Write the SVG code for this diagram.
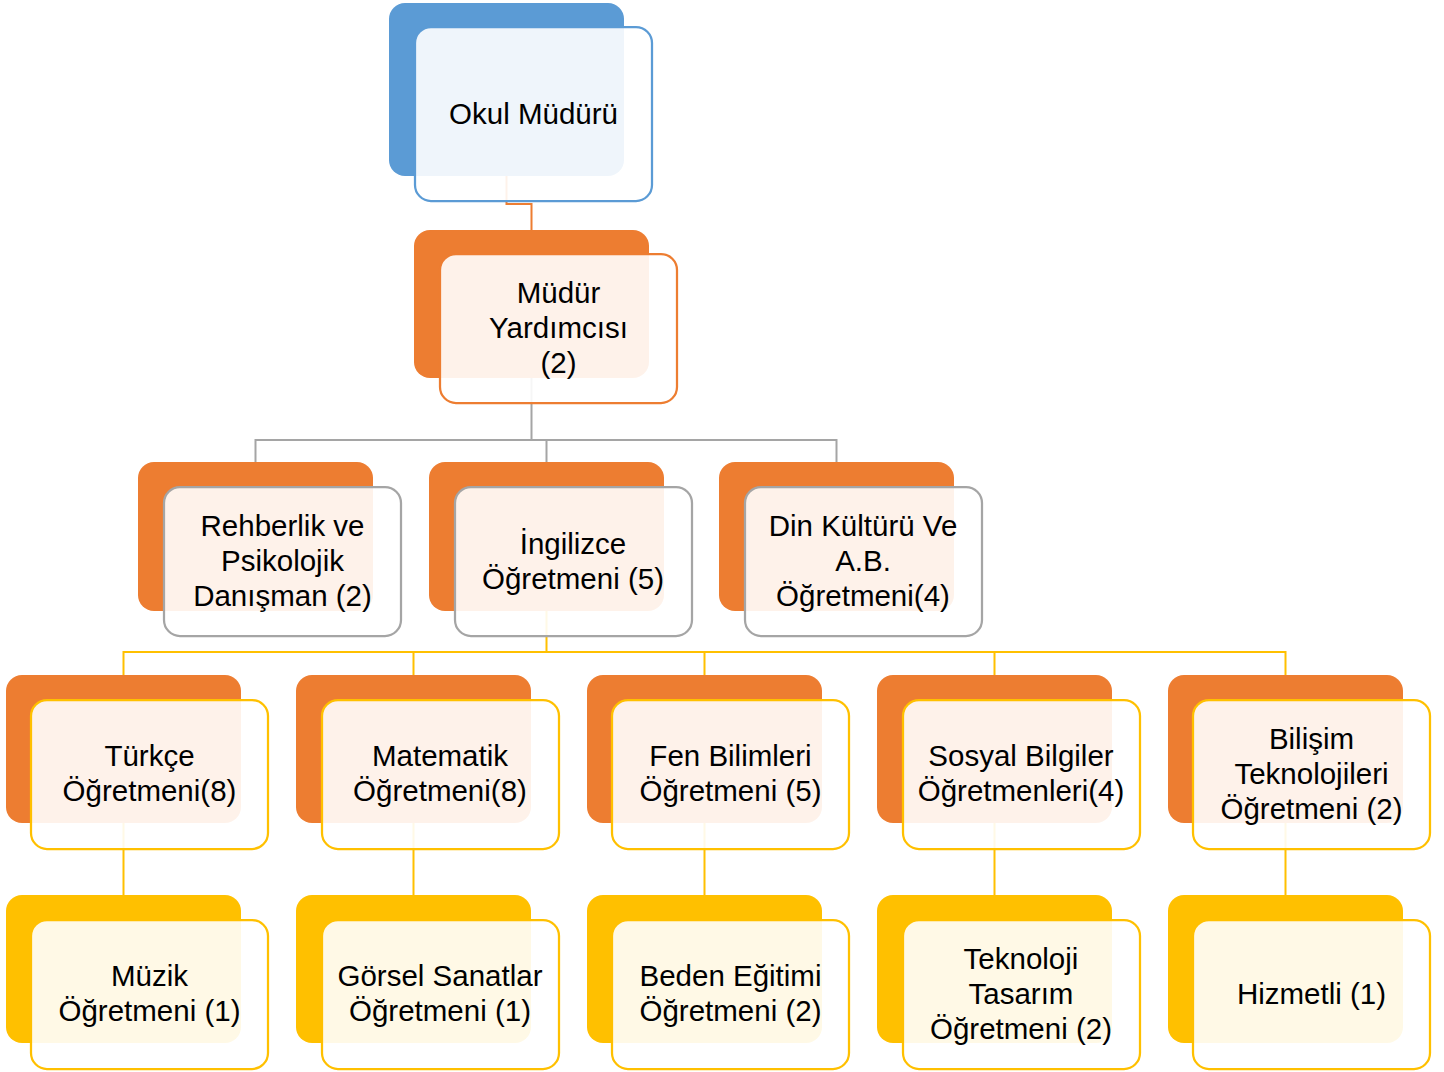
<svg xmlns="http://www.w3.org/2000/svg" width="1444" height="1072" viewBox="0 0 1444 1072">
<style>
.bk{stroke:none}
.fr{fill:#FFFFFF;fill-opacity:0.9;stroke-width:2.25}
.t{font-family:"Liberation Sans",Arial,sans-serif;font-size:29.5px;fill:#000;text-anchor:middle}
.c{fill:none;stroke-width:2}
.blue{fill:#5B9BD5}.orange{fill:#ED7D31}.yellow{fill:#FFC000}
.sb{stroke:#5B9BD5}.so{stroke:#ED7D31}.sg{stroke:#A5A5A5}.sy{stroke:#FFC000}
</style>
<rect width="1444" height="1072" fill="#FFFFFF"/>
<g id="connectors">
<path class="c so" d="M506.5 176 V204 H531.5 V230"/>
<path class="c sg" d="M531.5 378 V440 M255.5 462 V440 H836.5 V462 M546.5 440 V462"/>
<path class="c sy" d="M546.5 611 V652 M123.5 675 V652 H1285.5 V675 M413.5 652 V675 M704.5 652 V675 M994.5 652 V675"/>
<path class="c sy" d="M123.5 823 V895 M413.5 823 V895 M704.5 823 V895 M994.5 823 V895 M1285.5 823 V895"/>
</g>
<g id="n-okul">
<rect class="bk blue" x="389" y="3" width="235" height="173" rx="16"/>
<rect class="fr sb" x="415" y="27" width="237" height="174" rx="16"/>
<text class="t" x="533.5" y="124">Okul Müdürü</text>
</g>
<g id="n-mudur-yrd">
<rect class="bk orange" x="414" y="230" width="235" height="148" rx="16"/>
<rect class="fr so" x="440" y="254" width="237" height="149" rx="16"/>
<text class="t" x="558.5" y="303">Müdür</text>
<text class="t" x="558.5" y="338">Yardımcısı</text>
<text class="t" x="558.5" y="373">(2)</text>
</g>
<g id="n-rehberlik">
<rect class="bk orange" x="138" y="462" width="235" height="149" rx="16"/>
<rect class="fr sg" x="164" y="487" width="237" height="149" rx="16"/>
<text class="t" x="282.5" y="536">Rehberlik ve</text>
<text class="t" x="282.5" y="571">Psikolojik</text>
<text class="t" x="282.5" y="606">Danışman (2)</text>
</g>
<g id="n-ingilizce">
<rect class="bk orange" x="429" y="462" width="235" height="149" rx="16"/>
<rect class="fr sg" x="455" y="487" width="237" height="149" rx="16"/>
<text class="t" x="573" y="554">İngilizce</text>
<text class="t" x="573" y="589">Öğretmeni (5)</text>
</g>
<g id="n-din">
<rect class="bk orange" x="719" y="462" width="235" height="149" rx="16"/>
<rect class="fr sg" x="745" y="487" width="237" height="149" rx="16"/>
<text class="t" x="863" y="536">Din Kültürü Ve</text>
<text class="t" x="863" y="571">A.B.</text>
<text class="t" x="863" y="606">Öğretmeni(4)</text>
</g>
<g id="n-turkce">
<rect class="bk orange" x="6" y="675" width="235" height="148" rx="16"/>
<rect class="fr sy" x="31" y="700" width="237" height="149" rx="16"/>
<text class="t" x="149.5" y="766">Türkçe</text>
<text class="t" x="149.5" y="801">Öğretmeni(8)</text>
</g>
<g id="n-matematik">
<rect class="bk orange" x="296" y="675" width="235" height="148" rx="16"/>
<rect class="fr sy" x="322" y="700" width="237" height="149" rx="16"/>
<text class="t" x="440" y="766">Matematik</text>
<text class="t" x="440" y="801">Öğretmeni(8)</text>
</g>
<g id="n-fen">
<rect class="bk orange" x="587" y="675" width="235" height="148" rx="16"/>
<rect class="fr sy" x="612" y="700" width="237" height="149" rx="16"/>
<text class="t" x="730.5" y="766">Fen Bilimleri</text>
<text class="t" x="730.5" y="801">Öğretmeni (5)</text>
</g>
<g id="n-sosyal">
<rect class="bk orange" x="877" y="675" width="235" height="148" rx="16"/>
<rect class="fr sy" x="903" y="700" width="237" height="149" rx="16"/>
<text class="t" x="1021" y="766">Sosyal Bilgiler</text>
<text class="t" x="1021" y="801">Öğretmenleri(4)</text>
</g>
<g id="n-bilisim">
<rect class="bk orange" x="1168" y="675" width="235" height="148" rx="16"/>
<rect class="fr sy" x="1193" y="700" width="237" height="149" rx="16"/>
<text class="t" x="1311.5" y="749">Bilişim</text>
<text class="t" x="1311.5" y="784">Teknolojileri</text>
<text class="t" x="1311.5" y="819">Öğretmeni (2)</text>
</g>
<g id="n-muzik">
<rect class="bk yellow" x="6" y="895" width="235" height="148" rx="16"/>
<rect class="fr sy" x="31" y="920" width="237" height="149" rx="16"/>
<text class="t" x="149.5" y="986">Müzik</text>
<text class="t" x="149.5" y="1021">Öğretmeni (1)</text>
</g>
<g id="n-gorsel">
<rect class="bk yellow" x="296" y="895" width="235" height="148" rx="16"/>
<rect class="fr sy" x="322" y="920" width="237" height="149" rx="16"/>
<text class="t" x="440" y="986">Görsel Sanatlar</text>
<text class="t" x="440" y="1021">Öğretmeni (1)</text>
</g>
<g id="n-beden">
<rect class="bk yellow" x="587" y="895" width="235" height="148" rx="16"/>
<rect class="fr sy" x="612" y="920" width="237" height="149" rx="16"/>
<text class="t" x="730.5" y="986">Beden Eğitimi</text>
<text class="t" x="730.5" y="1021">Öğretmeni (2)</text>
</g>
<g id="n-teknoloji">
<rect class="bk yellow" x="877" y="895" width="235" height="148" rx="16"/>
<rect class="fr sy" x="903" y="920" width="237" height="149" rx="16"/>
<text class="t" x="1021" y="969">Teknoloji</text>
<text class="t" x="1021" y="1004">Tasarım</text>
<text class="t" x="1021" y="1039">Öğretmeni (2)</text>
</g>
<g id="n-hizmetli">
<rect class="bk yellow" x="1168" y="895" width="235" height="148" rx="16"/>
<rect class="fr sy" x="1193" y="920" width="237" height="149" rx="16"/>
<text class="t" x="1311.5" y="1004">Hizmetli (1)</text>
</g>
</svg>
